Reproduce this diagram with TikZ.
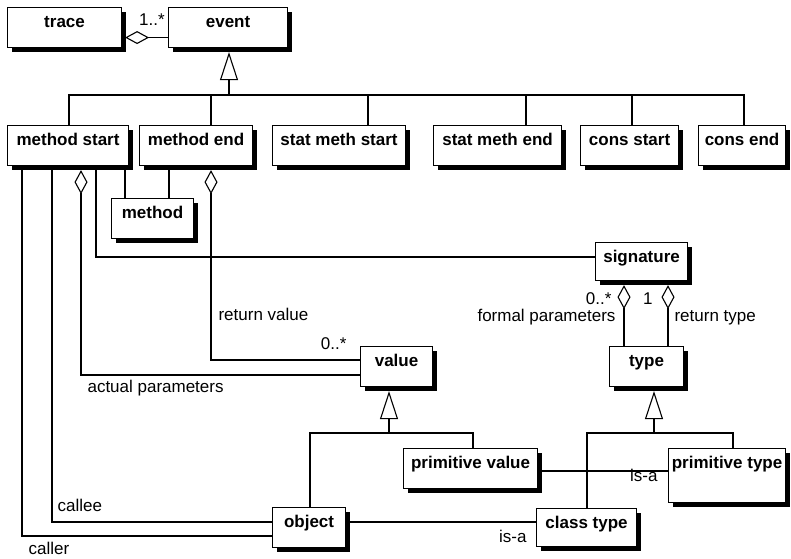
\documentclass[tikz,border=0pt]{standalone}
\usepackage{fontspec}
\setmainfont{Liberation Sans}
\usetikzlibrary{arrows.meta,shadows}
\tikzset{
  umlclass/.style={
    draw,
    fill=white,
    line width=1.1pt,
    anchor=north west,
    inner sep=0pt,
    minimum width=#1,
    text height=20pt,
    text depth=20pt,
    font=\bfseries\fontsize{17}{20}\selectfont,
    drop shadow={shadow xshift=4pt,shadow yshift=-4pt,fill=black,opacity=1}
  },
  umlclass/.default=80pt,
  role/.style={inner sep=0pt,font=\fontsize{17}{20}\selectfont},
  link/.style={line width=1.1pt},
  aggregation/.style={link,{Diamond[open,length=24pt,width=13pt]}-,shorten <=4pt},
  generalization/.style={link,-{Triangle[open,length=28pt,width=18pt]},shorten >=4pt}
}

\begin{document}
\begin{tikzpicture}[x=1pt,y=-1pt]
  \useasboundingbox (0,0) rectangle (791,558);

  \node[umlclass=114pt] (trace) at (7,7) {trace};
  \node[umlclass=119pt] (event) at (168,7) {event};

  \node[umlclass=121pt] (mstart) at (7,125) {method start};
  \node[umlclass=113pt] (mend) at (139,125) {method end};
  \node[umlclass=133pt] (smstart) at (272,125) {stat meth start};
  \node[umlclass=128pt] (smend) at (433,125) {stat meth end};
  \node[umlclass=98pt] (cstart) at (580,125) {cons start};
  \node[umlclass=87pt] (cend) at (698,125) {cons end};

  \node[umlclass=82pt] (method) at (111,198) {method};
  \node[umlclass=92pt,text depth=18pt] (signature) at (595,242) {signature};
  \node[umlclass=72pt] (value) at (360,346) {value};
  \node[umlclass=74pt] (type) at (609,346) {type};
  \node[umlclass=134pt] (primval) at (403,448) {primitive value};
  \node[umlclass=117pt,text depth=34pt] (primtype) at (668,448) {primitive type};
  \node[umlclass=73pt] (object) at (272,507) {object};
  \node[umlclass=100pt,text depth=18pt] (classtype) at (536,508) {class type};

  % trace -> events
  \draw[aggregation,shorten <=3pt] ([yshift=-10pt]trace.east) -- ([yshift=-10pt]event.west)
    node[role,pos=0.65,anchor=base,yshift=12pt] {1..*};

  % event kinds
  \coordinate (eventbus) at (229,95);
  \draw[generalization] (eventbus) -- (eventbus |- event.south);
  \draw[link] (mstart.north -| 69,0) |- (eventbus) -| (cend.north -| 744,0);
  \foreach \cls/\x in {mend/211,smstart/368,smend/526,cstart/632}
    \draw[link] (\cls.north -| \x,0) -- (eventbus -| \x,0);

  \draw[link] (mstart.south -| 22,0) |- (object.west |- 0,536)
    node[role,pos=0.5,anchor=base west,xshift=6pt,yshift=-18pt] {caller};
  \draw[link] (mstart.south -| 52,0) |- (object.west |- 0,522)
    node[role,pos=0.5,anchor=base west,xshift=5pt,yshift=11pt] {callee};
  \draw[aggregation] (mstart.south -| 81,0) |- (value.west |- 0,375)
    node[role,pos=0.5,anchor=base west,xshift=6pt,yshift=-17pt] {actual parameters};
  \draw[link] (mstart.south -| 96,0) |- (signature.west |- 0,257);
  \draw[link] (mstart.south -| 125,0) -- (method.north -| 125,0);
  \draw[link] (mend.south -| 169,0) -- (method.north -| 169,0);
  \draw[aggregation] (mend.south -| 211,0) |- (value.west |- 0,360)
    node[role,pos=0.5,anchor=base west,xshift=7pt,yshift=40pt] {return value}
    node[role,pos=1,anchor=base east,xshift=-13pt,yshift=11pt] {0..*};

  \draw[aggregation] (signature.south -| 624,0) -- (type.north -| 624,0)
    node[role,pos=0,anchor=base east,xshift=-12pt,yshift=-23pt] {0..*}
    node[role,pos=0,anchor=base east,xshift=-8pt,yshift=-40pt] {formal parameters};
  \draw[aggregation] (signature.south -| 668,0) -- (type.north -| 668,0)
    node[role,pos=0,anchor=base east,xshift=-15pt,yshift=-23pt] {1}
    node[role,pos=0,anchor=base west,xshift=6pt,yshift=-40pt] {return type};

  % value and type kinds
  \coordinate (valuebus) at (389,433);
  \draw[generalization] (valuebus) -- (valuebus |- value.south);
  \draw[link] (object.north -| 310,0) |- (valuebus) -| (primval.north -| 473,0);
  \coordinate (typebus) at (654,433);
  \draw[generalization] (typebus) -- (typebus |- type.south);
  \draw[link] (classtype.north -| 587,0) |- (typebus) -| (primtype.north -| 733,0);

  \draw[link] (primval.east |- 0,471) -- (primtype.west |- 0,471)
    node[role,pos=1,anchor=base east,xshift=-10pt,yshift=-10pt] {is-a};
  \draw[link] (object.east |- 0,522) -- (classtype.west |- 0,522)
    node[role,pos=1,anchor=base east,xshift=-9pt,yshift=-20pt] {is-a};
\end{tikzpicture}
\end{document}
